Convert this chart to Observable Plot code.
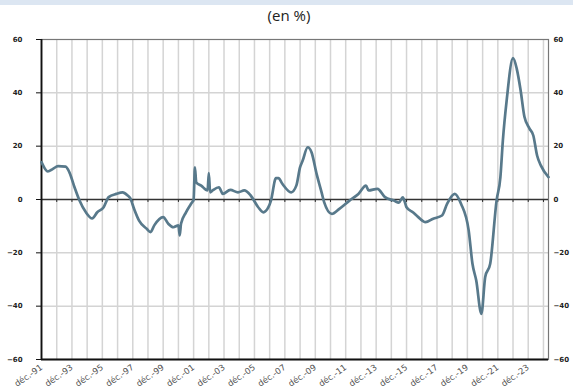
<!DOCTYPE html>
<html>
<head>
<meta charset="utf-8">
<script src="https://cdn.jsdelivr.net/npm/d3@7"></script>
<script src="https://cdn.jsdelivr.net/npm/@observablehq/plot@0.6"></script>
<style>
  body { margin: 0; background: #fff; }
  #wrap { position: relative; width: 573px; height: 390px; overflow: hidden; }
  #band { position: absolute; left: 0; top: 0; width: 573px; height: 5px; background: #dce6f2; }
  #title { position: absolute; left: 0; top: 5px; width: 578px; text-align: center; font-family: "Open Sans", "Liberation Sans", sans-serif; font-size: 15px; color: #222; }
  #chart { position: absolute; left: 0; top: 0; }
</style>
</head>
<body>
<div id="wrap">
  <div id="band"></div>
  <div id="title">(en %)</div>
  <div id="chart"></div>
</div>
<script>
const dates = ["1991-12","1992-05","1992-09","1993-01","1993-07","1993-10","1994-02","1994-06","1994-11","1995-04",
  "1995-08","1996-01","1996-05","1996-11","1997-04","1997-08","1997-10","1998-01","1998-05","1998-11",
  "1999-02","1999-05","1999-12","2000-04","2000-08","2000-12","2001-01","2001-02","2001-06","2001-10",
  "2001-12","2002-01","2002-02","2002-06","2002-11","2002-12","2003-01","2003-03","2003-08","2003-11",
  "2004-05","2004-11","2005-04","2005-09","2006-03","2006-07","2006-11","2007-01","2007-05","2007-07",
  "2007-10","2008-05","2008-09","2008-12","2009-02","2009-06","2009-09","2010-01","2010-05","2010-07",
  "2011-01","2011-07","2012-03","2012-10","2013-04","2013-06","2014-01","2014-07","2015-02","2015-06",
  "2015-09","2015-11","2015-12","2016-05","2016-09","2017-03","2017-09","2018-04","2018-08","2019-02",
  "2019-07","2020-01","2020-04","2020-07","2020-11","2021-02","2021-06","2021-11","2022-02","2022-04",
  "2022-07","2022-12","2023-03","2023-06","2023-09","2024-01","2024-04","2024-07","2024-10","2025-04"];
const values = [14,10.5,11.5,12.5,12.3,10.2,4.6,-0.4,-4.8,-7.1,
  -4.8,-2.9,0.9,2.1,2.7,1.5,0.5,-3.5,-7.9,-11,
  -12.2,-9.7,-6.6,-9.1,-10.4,-9.7,-13.5,-9.1,-4.8,-1.6,
  0,12.1,6.5,5.2,3.4,9.9,2.7,3.4,4.6,2.1,
  3.6,2.7,3.4,1.5,-2.9,-4.8,-2.9,-0.4,8.0,8.0,
  5.9,2.7,5.2,12.1,14.6,19.6,17.7,9.6,2.7,-1.0,
  -5.4,-3.5,-0.4,2.1,5.2,3.4,4.0,0.9,-0.4,-1.2,
  0.8,-1.5,-2.9,-4.8,-6.5,-8.5,-7.2,-6,-1.6,2.1,
  -1.6,-11.6,-24.1,-30.4,-42.9,-29.1,-24.1,-0.4,8.4,22.1,
  37.1,53,49,41,31,26.6,24,16.5,12.7,8.4];
const yTicks = [-60,-40,-20,0,20,40,60];
const gridYears = d3.range(1991, 2025); // décembre de chaque année
const labelYears = d3.range(1991, 2024, 2);

const parse = d3.utcParse("%Y-%m");
const data = dates.map((d, i) => ({date: parse(d), value: values[i]}));
const decOf = y => new Date(Date.UTC(y, 11, 1));
const gridDates = gridYears.map(decOf);
const labelDates = labelYears.map(decOf);

const font = "DejaVu Sans, sans-serif";
const chart = Plot.plot({
  width: 573,
  height: 390,
  marginTop: 39,
  marginBottom: 31,
  marginLeft: 41,
  marginRight: 25,
  style: {background: "transparent", fontFamily: font},
  x: {type: "utc", domain: [parse("1991-12"), parse("2025-04")], label: null},
  y: {domain: [-60, 60], label: null},
  marks: [
    Plot.gridX(gridDates, {stroke: "#d4d4d4", strokeOpacity: 1, strokeWidth: 1.5}),
    Plot.gridY(yTicks.filter(t => t !== 0 && Math.abs(t) !== 60), {stroke: "#d4d4d4", strokeOpacity: 1, strokeWidth: 1.5}),
    Plot.frame({stroke: "#777", strokeWidth: 1.2}),
    Plot.ruleX(gridDates, {x: d => d, y1: 0, y2: -1.1, stroke: "#222", strokeWidth: 1}),
    Plot.ruleY([0], {stroke: "#333", strokeWidth: 1.5}),
    Plot.ruleY([-60], {stroke: "#111", strokeWidth: 1.8}),
    Plot.ruleX([parse("1991-12")], {stroke: "#111", strokeWidth: 1.8}),
    Plot.axisY({anchor: "left", label: null, ticks: yTicks, tickSize: 5, tickPadding: 14, fontSize: 7, fontWeight: "bold", fill: "#222", stroke: "#111"}),
    Plot.axisY({anchor: "right", label: null, ticks: yTicks, tickSize: 0, tickPadding: 5, fontSize: 7, fontWeight: "bold", fill: "#222"}),
    Plot.axisX({label: null, ticks: labelDates, tickSize: 0, tickPadding: 7, tickRotate: -35, fontSize: 8.5, fill: "#555",
      tickFormat: d => "déc.-" + String(d.getUTCFullYear()).slice(2)}),
    Plot.line(data, {x: "date", y: "value", stroke: "#58798b", strokeWidth: 2.7, strokeLinejoin: "round", curve: "monotone-x"})
  ]
});
document.getElementById("chart").appendChild(chart);
</script>
</body>
</html>
